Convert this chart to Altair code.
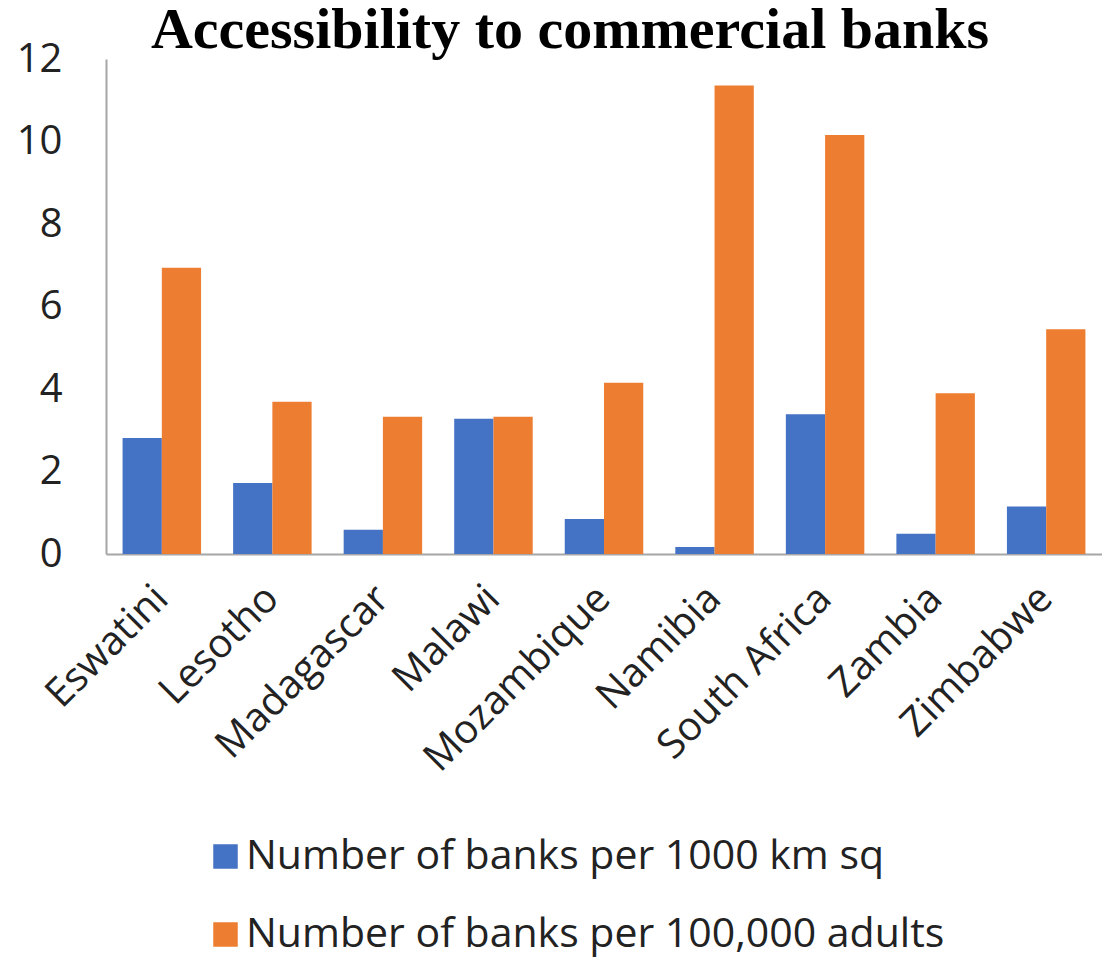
import altair as alt
import pandas as pd

title_text = "Accessibility to commercial banks"
countries = ["Eswatini", "Lesotho", "Madagascar", "Malawi", "Mozambique",
             "Namibia", "South Africa", "Zambia", "Zimbabwe"]
series_names = ["Number of banks per 1000 km sq", "Number of banks per 100,000 adults"]
per_area = [2.81, 1.72, 0.59, 3.28, 0.85, 0.17, 3.39, 0.49, 1.15]
per_adults = [6.94, 3.69, 3.33, 3.33, 4.15, 11.36, 10.16, 3.90, 5.45]
colors = ["#4472C4", "#ED7D31"]
y_ticks = [0, 2, 4, 6, 8, 10, 12]

rows = []
for c, a, b in zip(countries, per_area, per_adults):
    rows.append({"country": c, "series": series_names[0], "value": a})
    rows.append({"country": c, "series": series_names[1], "value": b})
df = pd.DataFrame(rows)

label_font = "Open Sans"

bars = alt.Chart(df).mark_bar().encode(
    x=alt.X("country:N", sort=countries,
            scale=alt.Scale(paddingInner=0.29, paddingOuter=0.15),
            axis=alt.Axis(title=None, labelAngle=-45, labelAlign="right",
                          labelBaseline="middle", labelPadding=38, ticks=False,
                          labelLimit=600, labelOverlap=False,
                          labelFont=label_font, labelFontSize=40, labelColor="#222222",
                          domainColor="#A6A6A6", domainWidth=2)),
    xOffset=alt.XOffset("series:N", sort=series_names),
    y=alt.Y("value:Q", scale=alt.Scale(domain=[0, 12], nice=False),
            axis=alt.Axis(title=None, values=y_ticks, grid=False, ticks=False,
                          labelPadding=44, labelFont=label_font, labelFontSize=40,
                          labelColor="#222222", domainColor="#A6A6A6", domainWidth=2)),
    color=alt.Color("series:N", sort=series_names,
                    scale=alt.Scale(domain=series_names, range=colors),
                    legend=alt.Legend(title=None, orient="none", direction="vertical",
                                      legendX=99, legendY=777, symbolType="square",
                                      symbolSize=600, symbolStrokeWidth=0,
                                      labelFont=label_font, labelFontSize=41,
                                      labelColor="#222222", labelOffset=0,
                                      rowPadding=36, labelLimit=1000)),
)

title = alt.Chart(pd.DataFrame({"t": [title_text]})).mark_text(
    font="Liberation Serif", fontSize=58, fontWeight="bold", color="#000000",
    align="center", baseline="alphabetic"
).encode(text="t:N", x=alt.value(464), y=alt.value(-11))

chart = alt.layer(bars, title).properties(
    width=996,
    height=495,
    autosize=alt.AutoSizeParams(type="none"),
    padding={"left": 98, "top": 51, "right": 0, "bottom": 405},
).configure_view(stroke=None)

chart.save("out.html", embed_options={"renderer": "svg", "actions": False})
